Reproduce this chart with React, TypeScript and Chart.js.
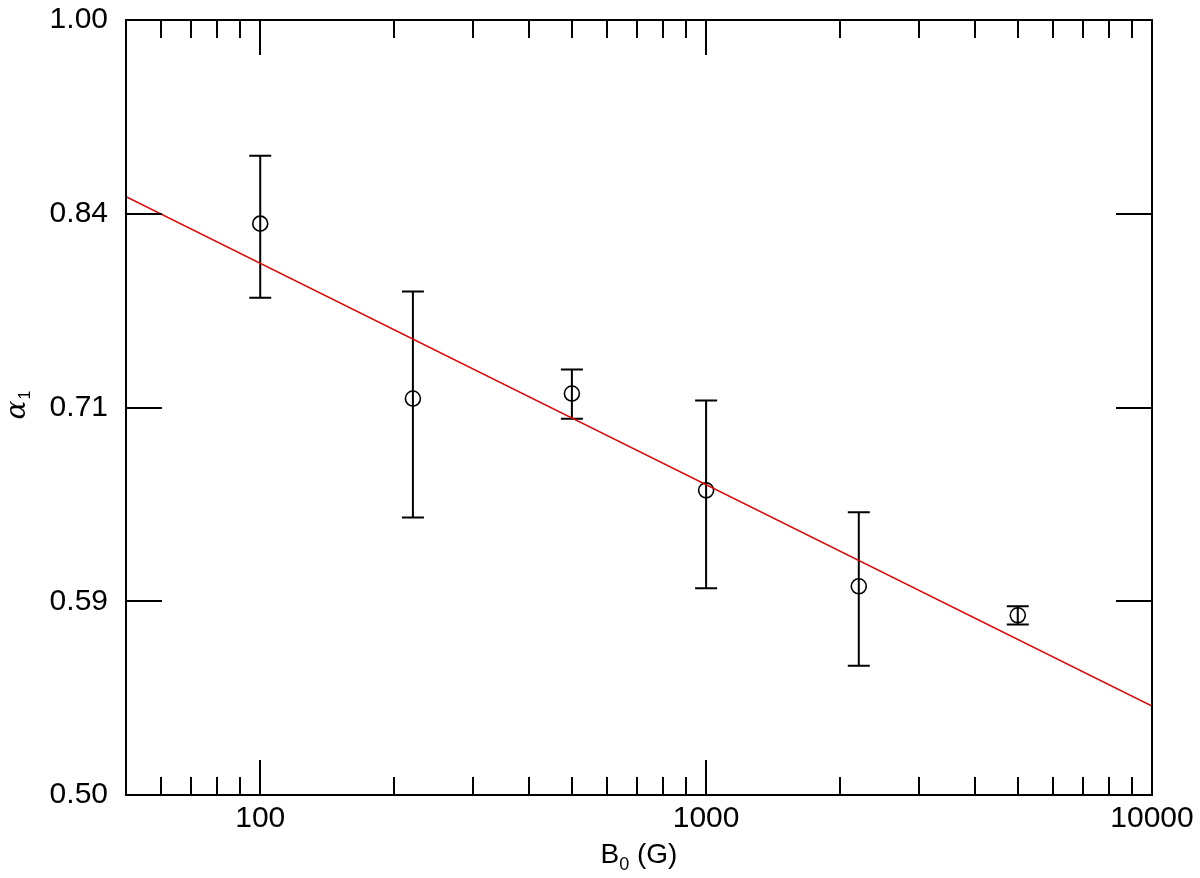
import React, { useEffect, useRef } from "react";
import { Chart, registerables } from "chart.js";

Chart.register(...registerables);

// Data
const fieldStrength = [100, 220, 500, 1000, 2200, 5000];
const alphaValues = [0.8335, 0.7128, 0.716, 0.6566, 0.6026, 0.5872];
const alphaLow = [0.78, 0.6409, 0.7, 0.6015, 0.5613, 0.5824];
const alphaHigh = [0.8856, 0.7844, 0.7315, 0.7116, 0.6438, 0.592];
const fitX = [50, 10000];
const fitY = [0.8538, 0.5414];

const xMajorTicks = [100, 1000, 10000];
const xMinorTicks = [60, 70, 80, 90, 200, 300, 400, 500, 600, 700, 800, 900, 2000, 3000, 4000, 5000, 6000, 7000, 8000, 9000];
const yTickValues = [0.5, 0.5946, 0.7071, 0.8409, 1.0];
const yTickLabels = ["0.50", "0.59", "0.71", "0.84", "1.00"];

const FONT = "'Liberation Sans', Arial, Helvetica, sans-serif";

const errorBarPlugin = {
  id: "errorBars",
  beforeDatasetsDraw(chart: any) {
    const { ctx, scales } = chart;
    const xs = scales.x;
    const ys = scales.y;
    ctx.save();
    ctx.strokeStyle = "#000";
    ctx.lineWidth = 2;
    fieldStrength.forEach((b, i) => {
      const px = xs.getPixelForValue(b);
      const lo = ys.getPixelForValue(alphaLow[i]);
      const hi = ys.getPixelForValue(alphaHigh[i]);
      ctx.beginPath();
      ctx.moveTo(px, lo);
      ctx.lineTo(px, hi);
      ctx.moveTo(px - 11, lo);
      ctx.lineTo(px + 11, lo);
      ctx.moveTo(px - 11, hi);
      ctx.lineTo(px + 11, hi);
      ctx.stroke();
    });
    ctx.restore();
  },
};

const framePlugin = {
  id: "frame",
  afterDraw(chart: any) {
    const { ctx, chartArea: a, scales } = chart;
    const xs = scales.x;
    const ys = scales.y;
    ctx.save();
    ctx.strokeStyle = "#000";
    ctx.lineWidth = 2;
    ctx.strokeRect(a.left, a.top, a.right - a.left, a.bottom - a.top);

    ctx.beginPath();
    const xTick = (v: number, len: number) => {
      const px = Math.round(xs.getPixelForValue(v));
      ctx.moveTo(px, a.bottom);
      ctx.lineTo(px, a.bottom - len);
      ctx.moveTo(px, a.top);
      ctx.lineTo(px, a.top + len);
    };
    xMajorTicks.forEach((v) => xTick(v, 35));
    xMinorTicks.forEach((v) => xTick(v, 18));
    yTickValues.slice(1, -1).forEach((v) => {
      const py = Math.round(ys.getPixelForValue(v));
      ctx.moveTo(a.left, py);
      ctx.lineTo(a.left + 36, py);
      ctx.moveTo(a.right, py);
      ctx.lineTo(a.right - 36, py);
    });
    ctx.stroke();

    // x-axis title: B0 (G) with subscript
    ctx.fillStyle = "#000";
    ctx.textBaseline = "alphabetic";
    const mainFont = `28px ${FONT}`;
    const subFont = `18px ${FONT}`;
    ctx.font = mainFont;
    const wB = ctx.measureText("B").width;
    const wRest = ctx.measureText(" (G)").width;
    ctx.font = subFont;
    const wSub = ctx.measureText("0").width;
    const total = wB + wSub + wRest;
    let x0 = (a.left + a.right) / 2 - total / 2;
    const base = 863;
    ctx.font = mainFont;
    ctx.fillText("B", x0, base);
    x0 += wB;
    ctx.font = subFont;
    ctx.fillText("0", x0, base + 7);
    x0 += wSub;
    ctx.font = mainFont;
    ctx.fillText(" (G)", x0, base);

    // y-axis title: alpha_1 rotated
    ctx.save();
    ctx.translate(25, (a.top + a.bottom) / 2 + 12);
    ctx.rotate(-Math.PI / 2);
    ctx.font = `italic 28px 'DejaVu Serif', 'Liberation Serif', serif`;
    ctx.fillText("α", 0, 0);
    const wA = ctx.measureText("α").width;
    ctx.font = `16px ${FONT}`;
    ctx.fillText("1", wA + 1, 5);
    ctx.restore();

    ctx.restore();
  },
};

export default function App() {
  const canvasRef = useRef<HTMLCanvasElement | null>(null);

  useEffect(() => {
    const canvas = canvasRef.current;
    if (!canvas) return;
    const chart = new Chart(canvas, {
      type: "scatter",
      data: {
        datasets: [
          {
            type: "line",
            label: "fit",
            data: fitX.map((x, i) => ({ x, y: fitY[i] })),
            borderColor: "rgb(224,0,0)",
            borderWidth: 1.6,
            pointRadius: 0,
            fill: false,
            tension: 0,
          } as any,
          {
            label: "alpha1",
            data: fieldStrength.map((x, i) => ({ x, y: alphaValues[i] })),
            pointStyle: "circle",
            pointRadius: 7.5,
            pointHoverRadius: 7.5,
            borderColor: "#000",
            borderWidth: 1.6,
            backgroundColor: "rgba(0,0,0,0)",
          },
        ],
      },
      options: {
        responsive: false,
        animation: false,
        events: [],
        layout: { padding: { left: 0, top: 20, right: 48, bottom: 0 } },
        plugins: {
          legend: { display: false },
          tooltip: { enabled: false },
        },
        scales: {
          x: {
            type: "logarithmic",
            min: 50,
            max: 10000,
            grid: { display: false, drawTicks: false },
            border: { display: false },
            afterBuildTicks: (scale: any) => {
              scale.ticks = xMajorTicks.map((v) => ({ value: v }));
            },
            afterFit: (scale: any) => {
              scale.height = 83;
              scale.paddingLeft = 0;
              scale.paddingRight = 0;
            },
            ticks: {
              autoSkip: false,
              maxRotation: 0,
              minRotation: 0,
              padding: 6,
              color: "#000",
              font: { family: FONT, size: 30 },
              callback: (value: any) => String(value),
            },
          },
          y: {
            type: "logarithmic",
            min: 0.5,
            max: 1.0,
            grid: { display: false, drawTicks: false },
            border: { display: false },
            afterBuildTicks: (scale: any) => {
              scale.ticks = yTickValues.map((v) => ({ value: v }));
            },
            afterFit: (scale: any) => {
              scale.width = 126;
              scale.paddingTop = 0;
              scale.paddingBottom = 0;
            },
            ticks: {
              autoSkip: false,
              padding: 18,
              color: "#000",
              font: { family: FONT, size: 30 },
              callback: (value: any) => {
                const idx = yTickValues.findIndex((v) => Math.abs(v - Number(value)) < 1e-6);
                return idx >= 0 ? yTickLabels[idx] : "";
              },
            },
          },
        },
      } as any,
      plugins: [errorBarPlugin, framePlugin],
    });
    return () => chart.destroy();
  }, []);

  return (
    <div style={{ position: "absolute", left: 0, top: 0, width: 1200, height: 878, background: "#fff" }}>
      <canvas ref={canvasRef} width={1200} height={878} style={{ display: "block" }} />
    </div>
  );
}
